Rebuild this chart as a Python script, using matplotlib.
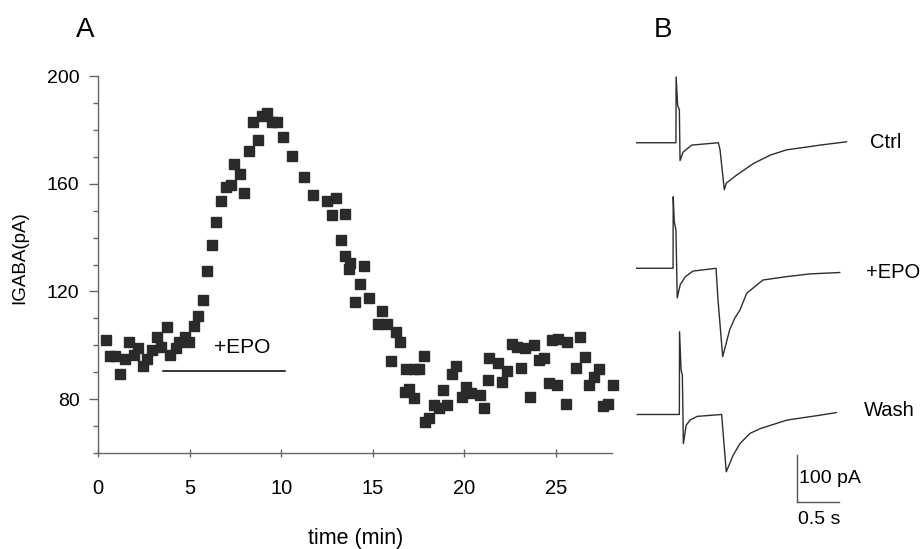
import numpy as np
import matplotlib
matplotlib.use("Agg")
import matplotlib.pyplot as plt

plt.rcParams['font.family'] = ['Liberation Sans', 'DejaVu Sans']

# ---- panel A: IGABA vs time ----
time_min = [0.42, 0.64, 0.93, 1.17, 1.44, 1.66, 1.93, 2.15, 2.43, 2.68,
            2.93, 3.21, 3.43, 3.75, 3.93, 4.23, 4.43, 4.72, 4.94, 5.21,
            5.43, 5.72, 5.96, 6.23, 6.44, 6.72, 6.96, 7.23, 7.43, 7.73,
            7.94, 8.22, 8.45, 8.73, 8.95, 9.22, 9.47, 9.77, 10.11, 10.58,
            11.24, 11.73, 12.48, 12.79, 12.99, 13.28, 13.50, 13.50, 13.72, 13.75,
            14.01, 14.28, 14.50, 14.79, 15.30, 15.52, 15.79, 16.00, 16.28, 16.50,
            16.76, 16.80, 17.00, 17.24, 17.25, 17.51, 17.78, 17.84, 18.05, 18.36,
            18.60, 18.85, 19.04, 19.33, 19.56, 19.86, 20.08, 20.38, 20.84, 21.06,
            21.28, 21.33, 21.82, 22.06, 22.33, 22.61, 22.86, 23.11, 23.32, 23.61,
            23.83, 24.08, 24.34, 24.61, 24.81, 25.05, 25.14, 25.56, 25.63, 26.10,
            26.34, 26.61, 26.83, 27.10, 27.35, 27.60, 27.84, 28.10]
igaba_pA = [102.1, 96.1, 96.1, 89.2, 95.0, 101.1, 96.3, 99.1, 92.2, 95.0,
            98.3, 103.1, 99.3, 106.9, 96.3, 99.1, 101.2, 103.2, 101.2, 107.2,
            110.9, 116.8, 127.6, 137.1, 145.9, 153.7, 158.7, 159.5, 167.4, 163.5,
            156.7, 172.3, 183.0, 176.1, 185.1, 186.1, 183.0, 183.0, 177.3, 170.4,
            162.5, 155.7, 153.7, 148.4, 154.8, 139.1, 148.9, 133.1, 128.2, 130.4,
            116.1, 122.9, 129.6, 117.6, 107.9, 112.7, 107.9, 94.3, 104.9, 101.1,
            82.8, 91.3, 83.8, 91.3, 80.4, 91.3, 96.1, 71.6, 72.9, 77.7,
            76.6, 83.4, 77.7, 89.2, 92.3, 80.7, 84.4, 82.2, 81.4, 76.6,
            87.1, 95.2, 93.3, 86.5, 90.3, 100.4, 99.5, 91.6, 98.9, 80.7,
            100.1, 94.5, 95.2, 86.1, 102.1, 85.1, 102.3, 78.1, 101.3, 91.6,
            103.2, 95.5, 85.3, 88.3, 91.3, 77.6, 78.3, 85.1]
epo_window = [3.52, 10.22]
epo_bar_level = 90.5

# ---- panel B: example traces (s, pA relative to each baseline) ----
ctrl_t = [0.0, 0.46, 0.462, 0.48, 0.50, 0.508, 0.543, 0.645, 0.957, 0.977, 1.027,
          1.05, 1.17, 1.37, 1.57, 1.76, 1.96, 2.15, 2.46]
ctrl_i = [0, 0, 140, 80, 70, -38, -20, -5, 0, -15, -100,
          -86, -69, -44, -26, -15, -10, -5, 2]
epo_t = [0.0, 0.426, 0.428, 0.44, 0.46, 0.475, 0.51, 0.57, 0.66, 0.93, 0.953, 1.008,
         1.09, 1.15, 1.21, 1.29, 1.48, 1.75, 2.03, 2.38]
epo_i = [0, 0, 152, 100, 81, -63, -35, -18, -6, 0, -67, -188,
         -131, -106, -89, -53, -25, -18, -12, -9]
wash_t = [0.007, 0.50, 0.502, 0.52, 0.535, 0.547, 0.58, 0.625, 0.71, 0.996, 1.02, 1.05,
          1.13, 1.21, 1.33, 1.45, 1.76, 2.15, 2.34]
wash_i = [0, 0, 176, 95, 84, -62, -23, -12, -4, 0, -55, -122,
          -87, -62, -40, -30, -12, -1.5, 4]
trace_offsets = [0, -267, -578]
trace_names = ['Ctrl', '+EPO', 'Wash']
bar_pA = 100
bar_s = 0.5

W, H = 922, 549
fig = plt.figure(figsize=(W / 100, H / 100), dpi=100)

ax = fig.add_axes([98.3 / W, (H - 453) / H, (612 - 98.3) / W, 377 / H])
ax.plot(time_min, igaba_pA, 's', ms=6.6, color='#2a2a2a', mec='#2a2a2a',
        clip_on=False, zorder=3)
ax.plot(epo_window, [epo_bar_level, epo_bar_level], color='black', lw=1.1)
ax.text(np.mean(epo_window) + 1.0, 99.0, '+EPO', fontsize=15,
        ha='center', va='center')
ax.set_xlim(0, 28.07)
ax.set_ylim(60, 200)
ax.set_xticks([0, 5, 10, 15, 20, 25])
ax.set_yticks([80, 120, 160, 200])
ax.set_yticks(np.arange(60, 201, 10), minor=True)
for s in ['top', 'right']:
    ax.spines[s].set_visible(False)
for s in ['left', 'bottom']:
    ax.spines[s].set_color('#666666')
    ax.spines[s].set_linewidth(1.0)
ax.tick_params(axis='y', which='major', direction='out', length=6.5, width=1,
               color='#666666', labelsize=14, pad=7)
ax.tick_params(axis='y', which='minor', direction='out', length=3.6, width=1,
               color='#666666')
ax.tick_params(axis='x', which='major', direction='inout', length=6, width=1,
               color='#666666', labelsize=14.5, pad=16)
ax.set_xlabel('time (min)', fontsize=15.5, va='center')
ax.xaxis.set_label_coords(0.5, -0.2255)
ax.set_ylabel('IGABA(pA)', fontsize=13.5, va='center')
ax.yaxis.set_label_coords(-78.3 / 513.7, (453 - 258) / 377)

fig.text(85 / W, 1 - 30 / H, 'A', fontsize=20, ha='center', va='center')
fig.text(663 / W, 1 - 30 / H, 'B', fontsize=20, ha='center', va='center')

# panel B
axb = fig.add_axes([620 / W, 9 / H, 302 / W, 480 / H])
axb.set_xlim(-0.196, 3.345)
axb.set_ylim(-845, 176)
axb.axis('off')
for t, i, off in zip([ctrl_t, epo_t, wash_t], [ctrl_i, epo_i, wash_i],
                     trace_offsets):
    axb.plot(t, np.array(i) + off, color='#2e2e2e', lw=1.0)
label_pos = [(2.734, 0), (2.687, -275), (2.66, -569)]
for name, (lx, ly) in zip(trace_names, label_pos):
    axb.text(lx, ly, name, fontsize=14.5, ha='left', va='center')

bx, by = 1.875, -764.5
axb.plot([bx, bx], [by, by + bar_pA], color='#555555', lw=1)
axb.plot([bx, bx + bar_s], [by, by], color='#555555', lw=1)
axb.text(bx + 0.03, by + bar_pA / 2, '%d pA' % bar_pA, fontsize=14,
         ha='left', va='center')
axb.text(bx + bar_s / 2 + 0.01, by - 36, '%.1f s' % bar_s, fontsize=14,
         ha='center', va='center')

fig.savefig('out.png', dpi=100)
